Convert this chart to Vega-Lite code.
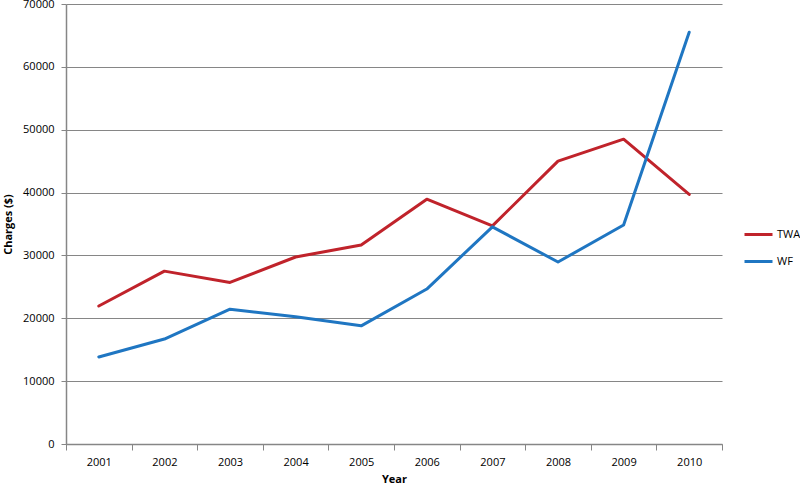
{
  "$schema": "https://vega.github.io/schema/vega-lite/v6.json",
  "autosize": {"type": "none"},
  "padding": {"left": 66, "top": 4, "right": 78, "bottom": 44},
  "width": 656,
  "height": 440,
  "background": "white",
  "config": {
    "view": {"stroke": null},
    "font": "Open Sans"
  },
  "data": {
    "values": [
      {"Year": "2001", "Series": "TWA", "Charges": 21950},
      {"Year": "2002", "Series": "TWA", "Charges": 27500},
      {"Year": "2003", "Series": "TWA", "Charges": 25700},
      {"Year": "2004", "Series": "TWA", "Charges": 29750},
      {"Year": "2005", "Series": "TWA", "Charges": 31650},
      {"Year": "2006", "Series": "TWA", "Charges": 38950},
      {"Year": "2007", "Series": "TWA", "Charges": 34700},
      {"Year": "2008", "Series": "TWA", "Charges": 45000},
      {"Year": "2009", "Series": "TWA", "Charges": 48500},
      {"Year": "2010", "Series": "TWA", "Charges": 39700},
      {"Year": "2001", "Series": "WF", "Charges": 13850},
      {"Year": "2002", "Series": "WF", "Charges": 16700},
      {"Year": "2003", "Series": "WF", "Charges": 21450},
      {"Year": "2004", "Series": "WF", "Charges": 20250},
      {"Year": "2005", "Series": "WF", "Charges": 18800},
      {"Year": "2006", "Series": "WF", "Charges": 24650},
      {"Year": "2007", "Series": "WF", "Charges": 34550},
      {"Year": "2008", "Series": "WF", "Charges": 28950},
      {"Year": "2009", "Series": "WF", "Charges": 34850},
      {"Year": "2010", "Series": "WF", "Charges": 65500}
    ]
  },
  "mark": {"type": "line", "strokeWidth": 3, "strokeCap": "round", "strokeJoin": "round"},
  "encoding": {
    "x": {
      "field": "Year",
      "type": "ordinal",
      "scale": {"type": "band", "paddingInner": 0, "paddingOuter": 0},
      "axis": {
        "title": "Year",
        "titleFont": "Open Sans",
        "titleFontSize": 11,
        "titleFontWeight": "bold",
        "titleColor": "#000000",
        "titlePadding": 6,
        "labelAngle": 0,
        "labelFontSize": 11,
        "labelColor": "#000000",
        "labelPadding": 6,
        "tickBand": "extent",
        "tickSize": 6,
        "tickColor": "#868686",
        "domainColor": "#868686",
        "domainWidth": 1.5,
        "grid": false
      }
    },
    "y": {
      "field": "Charges",
      "type": "quantitative",
      "scale": {"domain": [0, 70000], "nice": false},
      "axis": {
        "title": "Charges ($)",
        "titleFont": "Open Sans",
        "titleFontSize": 11,
        "titleFontWeight": "bold",
        "titleColor": "#000000",
        "titlePadding": 9,
        "values": [0, 10000, 20000, 30000, 40000, 50000, 60000, 70000],
        "format": "d",
        "labelFontSize": 11,
        "labelColor": "#000000",
        "labelPadding": 7,
        "tickSize": 5,
        "tickColor": "#868686",
        "domainColor": "#868686",
        "domainWidth": 1.5,
        "grid": true,
        "gridColor": "#868686",
        "gridWidth": 1.2
      }
    },
    "color": {
      "field": "Series",
      "type": "nominal",
      "scale": {"domain": ["TWA", "WF"], "range": ["#C0232B", "#1F76C2"]},
      "legend": {
        "title": null,
        "orient": "none",
        "legendX": 677,
        "legendY": 215,
        "symbolType": "stroke",
        "symbolSize": 784,
        "symbolStrokeWidth": 3,
        "labelFontSize": 11,
        "labelColor": "#000000",
        "labelOffset": 3,
        "rowPadding": 5
      }
    }
  }
}
